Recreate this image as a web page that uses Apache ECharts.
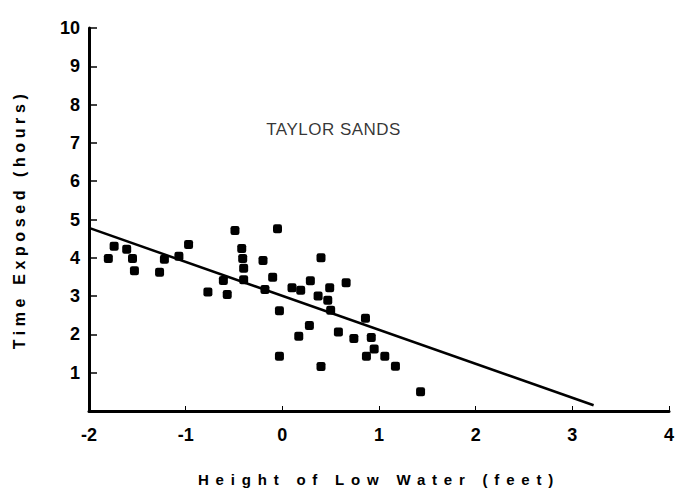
<!DOCTYPE html>
<html>
<head>
<meta charset="utf-8">
<script src="https://cdn.jsdelivr.net/npm/echarts@6/dist/echarts.min.js"></script>
<style>
	html, body { margin: 0; padding: 0; background: #fff; }
	#chart { width: 680px; height: 501px; }
</style>
</head>
<body>
<div id="chart"></div>
<script>
	// height of low water (feet) / time exposed (hours)
	var heightFt = [-1.80, -1.74, -1.61, -1.55, -1.53, -1.27, -1.22, -1.07, -0.97, -0.77,
		-0.61, -0.57, -0.49, -0.42, -0.41, -0.40, -0.40, -0.20, -0.18, -0.10,
		-0.05, -0.03, -0.03, 0.40, 0.29, 0.10, 0.19, 0.49, 0.66, 0.37,
		0.47, 0.50, 0.28, 0.17, 0.58, 0.86, 0.74, 0.92, 0.95, 0.87,
		1.06, 1.17, 0.40, 1.43];
	var timeHrs = [3.98, 4.30, 4.22, 3.98, 3.66, 3.62, 3.96, 4.04, 4.35, 3.11,
		3.41, 3.04, 4.71, 4.24, 3.98, 3.73, 3.43, 3.93, 3.17, 3.49,
		4.76, 2.62, 1.43, 4.00, 3.40, 3.22, 3.15, 3.22, 3.35, 3.00,
		2.89, 2.63, 2.23, 1.95, 2.06, 2.42, 1.89, 1.92, 1.62, 1.43,
		1.43, 1.17, 1.16, 0.50];
	// fitted line end points
	var fitX = [-2, 3.22];
	var fitY = [4.78, 0.15];
	var xTicks = [-2, -1, 0, 1, 2, 3, 4];
	var yTicks = [1, 2, 3, 4, 5, 6, 7, 8, 9, 10];
	var siteName = 'TAYLOR SANDS';
	var siteAt = [0.53, 7.35];

	var font = '"Liberation Sans", Arial, sans-serif';
	var pts = heightFt.map(function (x, i) { return [x, timeHrs[i]]; });
	var fit = fitX.map(function (x, i) { return [x, fitY[i]]; });

	var chart = echarts.init(document.getElementById('chart'), null, { renderer: 'svg' });
	var option = {
		animation: false,
		backgroundColor: '#fff',
		grid: { left: 89, right: 11, top: 28, bottom: 90 },
		xAxis: {
			type: 'value',
			min: xTicks[0],
			max: xTicks[xTicks.length - 1],
			interval: 1,
			name: 'Height of Low Water (feet)',
			nameLocation: 'middle',
			nameGap: 61,
			nameTextStyle: { color: '#000', fontFamily: font, fontWeight: 'bold', fontSize: 15 },
			axisLine: { onZero: false, lineStyle: { color: '#000', width: 3 } },
			axisTick: { inside: true, length: 5, lineStyle: { color: '#000', width: 1 } },
			axisLabel: { color: '#000', fontFamily: font, fontWeight: 'bold', fontSize: 18, margin: 15 },
			splitLine: { show: false }
		},
		yAxis: {
			type: 'value',
			min: 0,
			max: yTicks[yTicks.length - 1],
			interval: 1,
			name: 'Time Exposed (hours)',
			nameLocation: 'middle',
			nameGap: 62,
			nameTextStyle: { color: '#000', fontFamily: font, fontWeight: 'bold', fontSize: 16 },
			axisLine: { onZero: false, lineStyle: { color: '#000', width: 3 } },
			axisTick: { inside: true, length: 8, lineStyle: { color: '#000', width: 1.5 } },
			axisLabel: {
				color: '#000', fontFamily: font, fontWeight: 'bold', fontSize: 18, margin: 9,
				showMinLabel: false
			},
			splitLine: { show: false }
		},
		series: [{
			type: 'scatter',
			data: pts,
			symbol: 'roundRect',
			symbolSize: 9,
			itemStyle: { color: '#000', opacity: 1 }
		}, {
			type: 'line',
			data: fit,
			symbol: 'none',
			lineStyle: { color: '#000', width: 2.5 }
		}, {
			type: 'scatter',
			data: [siteAt],
			symbolSize: 0,
			silent: true,
			label: {
				show: true, position: 'inside', formatter: siteName,
				color: '#000', fontFamily: font, fontSize: 17, fontWeight: 'normal'
			}
		}]
	};
	chart.setOption(option);

	// the original labels are widely tracked
	var spacing = { 'Height of Low Water (feet)': '6.8px', 'Time Exposed (hours)': '4.6px', 'TAYLOR SANDS': '0.5px' };
	document.querySelectorAll('#chart text').forEach(function (el) {
		var s = spacing[el.textContent];
		if (s) el.style.letterSpacing = s;
	});
</script>
</body>
</html>
